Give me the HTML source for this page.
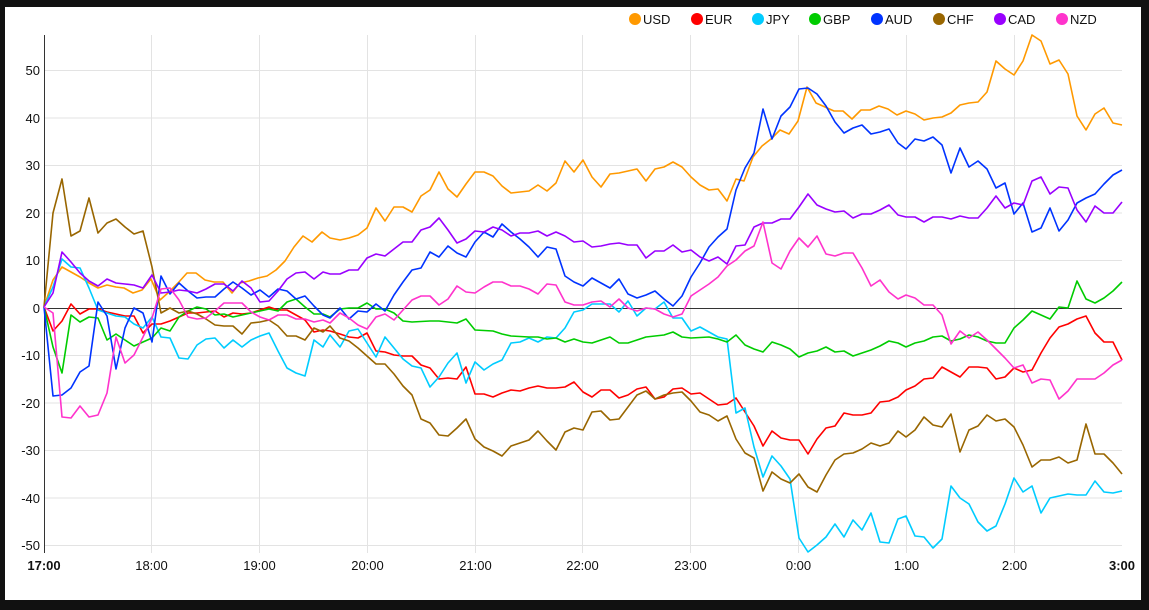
<!DOCTYPE html>
<html><head><meta charset="utf-8"><style>
html,body{margin:0;padding:0;background:#111;}
svg{display:block;font-family:"Liberation Sans",Arial,sans-serif;}
</style></head><body>
<svg width="1149" height="610" viewBox="0 0 1149 610" xmlns="http://www.w3.org/2000/svg">
<rect x="0" y="0" width="1149" height="610" fill="#111"/>
<rect x="5" y="7" width="1136" height="593" fill="#fff"/>
<g stroke="#e3e3e3" stroke-width="1">
<line x1="44.5" x2="1122" y1="70.5" y2="70.5"/><line x1="44.5" x2="1122" y1="118" y2="118"/><line x1="44.5" x2="1122" y1="165.5" y2="165.5"/><line x1="44.5" x2="1122" y1="213" y2="213"/><line x1="44.5" x2="1122" y1="260.5" y2="260.5"/>
<line x1="44.5" x2="1122" y1="355.5" y2="355.5"/><line x1="44.5" x2="1122" y1="403" y2="403"/><line x1="44.5" x2="1122" y1="450.5" y2="450.5"/><line x1="44.5" x2="1122" y1="498" y2="498"/><line x1="44.5" x2="1122" y1="545.5" y2="545.5"/>
<line x1="151.5" x2="151.5" y1="35" y2="553"/><line x1="259.5" x2="259.5" y1="35" y2="553"/><line x1="367.5" x2="367.5" y1="35" y2="553"/><line x1="475.5" x2="475.5" y1="35" y2="553"/><line x1="582.5" x2="582.5" y1="35" y2="553"/><line x1="690.5" x2="690.5" y1="35" y2="553"/><line x1="798.5" x2="798.5" y1="35" y2="553"/><line x1="906.5" x2="906.5" y1="35" y2="553"/><line x1="1014.5" x2="1014.5" y1="35" y2="553"/>
</g>
<line x1="44.5" x2="1122" y1="308.5" y2="308.5" stroke="#333" stroke-width="1"/>
<line x1="44.5" x2="44.5" y1="35" y2="553" stroke="#333" stroke-width="1"/>
<g font-size="13" fill="#111" text-anchor="end">
<text x="40" y="75">50</text><text x="40" y="123">40</text><text x="40" y="170">30</text><text x="40" y="218">20</text><text x="40" y="265">10</text><text x="40" y="313">0</text><text x="40" y="360">-10</text><text x="40" y="408">-20</text><text x="40" y="455">-30</text><text x="40" y="503">-40</text><text x="40" y="550">-50</text>
</g>
<g font-size="13" fill="#111" text-anchor="middle">
<text x="44" y="570" font-weight="bold">17:00</text><text x="151.5" y="570">18:00</text><text x="259.5" y="570">19:00</text><text x="367.5" y="570">20:00</text><text x="475.5" y="570">21:00</text><text x="582.5" y="570">22:00</text><text x="690.5" y="570">23:00</text><text x="798.5" y="570">0:00</text><text x="906.5" y="570">1:00</text><text x="1014.5" y="570">2:00</text><text x="1122" y="570" font-weight="bold">3:00</text>
</g>
<g fill="none" stroke-width="1.6" stroke-linejoin="round">
<polyline stroke="#ff9900" points="44,307 53,280 62,267 71,272 80,277 89,283 98,288 107,285 116,287 124,288 133,293 142,290 151,279 160,300 169,292 178,283 187,273 196,273 205,280 214,282 223,282 232,293 240,283 249,281 258,278 267,276 276,270 285,261 294,247 303,236 312,242 322,232 330,238 340,240 349,238 358,235 367,228 376,208 385,221 394,207 403,207 412,212 421,196 430,190 439,172 448,189 457,197 466,184 475,172 484,172 493,176 502,186 511,193 520,192 529,191 538,185 547,191 556,183 565,161 574,172 583,160 592,177 601,187 610,174 619,173 628,171 637,169 646,181 655,169 664,167 673,162 682,167 691,177 700,185 709,190 718,189 727,201 736,179 744,181 753,157 762,146 771,139 780,130 789,134 798,121 807,87 816,103 825,107 834,111 843,111 852,119 861,110 870,110 879,106 888,109 897,115 906,111 915,114 924,120 933,118 942,117 951,113 960,105 969,103 978,102 987,92 996,61 1005,69 1014,75 1023,61 1032,35 1041,41 1050,64 1059,60 1068,74 1077,116 1086,130 1095,114 1104,108 1113,123 1122,125"/>
<polyline stroke="#ff0000" points="44,307 53,331 62,321 71,304 80,314 89,309 98,309 107,312 116,314 125,316 134,316 143,333 152,324 161,324 170,321 179,317 188,313 197,313 206,312 215,311 224,317 233,313 242,314 251,313 260,310 269,307 278,310 287,310 296,315 305,320 314,332 323,330 330,331 340,334 349,337 358,338 367,333 376,351 385,352 394,355 403,356 412,356 421,365 430,368 439,379 448,378 457,379 466,367 475,394 484,394 493,397 502,393 511,390 520,391 529,388 538,386 547,388 556,388 565,387 574,382 583,392 592,397 601,390 610,390 619,398 628,395 637,389 646,387 655,399 664,397 673,389 682,388 691,394 700,393 709,399 718,405 727,404 736,398 745,412 754,426 763,446 772,431 781,438 790,440 799,440 808,454 817,439 826,428 835,426 844,413 853,415 862,415 871,413 880,402 889,401 898,397 906,390 915,386 924,379 933,378 942,367 951,372 960,377 969,367 978,367 987,368 996,379 1005,377 1014,368 1023,372 1032,370 1041,353 1050,338 1059,327 1068,324 1077,319 1086,316 1095,333 1104,342 1113,342 1122,360"/>
<polyline stroke="#00ccff" points="44,307 53,287 62,259 71,267 80,268 89,288 98,310 107,313 116,316 125,317 134,324 143,328 152,317 161,337 170,338 179,358 188,359 197,345 206,339 215,338 224,348 233,340 242,347 251,340 260,336 269,333 278,351 287,368 296,373 305,376 314,340 323,347 330,335 340,347 349,331 358,329 367,343 376,357 385,337 394,348 403,359 412,366 421,368 430,387 439,377 448,363 457,353 466,383 475,362 484,370 493,364 502,360 511,343 520,342 529,338 538,342 547,337 556,338 565,328 574,312 583,310 592,304 601,304 610,304 619,312 628,301 637,316 646,308 655,309 664,302 673,318 682,318 691,331 700,327 709,332 718,337 727,339 736,413 745,408 754,447 763,477 772,456 781,466 790,479 799,538 808,552 817,545 826,537 835,524 844,537 853,520 862,530 871,513 880,542 889,543 898,519 906,516 915,536 924,537 933,548 942,539 951,486 960,498 969,504 978,522 987,531 996,526 1005,504 1014,478 1023,492 1032,486 1041,513 1050,498 1059,496 1068,494 1077,495 1086,495 1095,481 1104,492 1113,493 1122,491"/>
<polyline stroke="#00cc00" points="44,307 53,347 62,373 71,315 80,322 89,317 98,318 107,340 116,334 125,340 134,346 143,342 152,338 161,328 170,331 179,317 188,311 197,307 206,309 215,315 224,314 233,317 242,315 251,313 260,311 269,309 278,311 287,302 296,299 305,307 314,314 323,314 330,317 340,309 349,308 358,308 367,303 376,309 385,309 394,313 403,321 412,322 430,321 439,321 448,322 457,323 466,319 475,330 493,331 502,334 511,336 529,337 538,337 547,339 556,338 565,342 574,339 583,342 592,343 601,340 610,337 619,343 628,343 637,340 646,337 655,336 664,335 673,332 682,337 691,338 709,337 718,339 727,342 736,335 745,345 754,349 763,352 772,342 781,345 790,349 799,357 808,353 817,351 826,347 835,352 844,351 853,356 862,353 871,350 880,346 889,341 898,343 906,347 915,343 924,341 933,337 942,336 951,341 960,339 969,335 978,337 987,341 996,343 1005,343 1014,328 1023,320 1032,311 1041,315 1050,319 1059,307 1068,308 1077,281 1086,299 1095,303 1104,298 1113,291 1122,282"/>
<polyline stroke="#0033ff" points="44,307 53,396 62,395 71,388 80,372 89,366 98,302 107,316 116,369 125,328 134,308 143,313 152,342 161,276 170,294 179,283 188,291 197,298 206,297 215,297 224,289 233,282 242,288 251,295 260,290 269,297 278,289 287,291 296,299 305,296 314,306 323,315 330,318 340,308 349,319 358,311 367,312 376,304 385,311 394,295 403,282 412,270 421,268 430,252 439,257 448,246 457,253 466,257 475,242 484,232 493,237 502,224 511,232 520,239 529,247 538,257 547,247 556,249 565,276 574,282 583,286 592,278 601,283 610,288 619,279 628,294 637,298 646,295 655,291 664,299 673,306 682,296 691,277 700,263 709,247 718,237 727,229 736,190 745,168 754,153 763,109 772,139 781,116 790,107 799,89 808,88 817,94 826,106 835,122 844,133 853,128 862,125 871,134 880,132 889,129 898,143 906,149 915,139 924,141 933,137 942,145 951,173 960,148 969,167 978,161 987,169 996,188 1005,183 1014,214 1023,203 1032,232 1041,228 1050,208 1059,231 1068,220 1077,203 1086,198 1095,194 1104,184 1113,175 1122,170"/>
<polyline stroke="#996600" points="44,307 53,213 62,179 71,236 80,231 89,198 98,233 107,223 116,219 125,227 134,234 143,231 152,267 161,313 170,308 179,313 188,311 197,314 206,319 215,325 224,326 233,326 242,334 251,323 260,322 269,320 278,326 287,336 296,336 305,340 314,328 323,332 330,326 340,338 349,341 358,348 367,356 376,364 385,364 394,374 403,386 412,395 421,419 430,423 439,435 448,436 457,428 466,419 475,439 484,447 493,451 502,456 511,446 520,443 529,440 538,431 547,441 556,450 565,432 574,428 583,430 592,412 601,411 610,420 619,419 628,407 637,395 646,391 655,399 664,395 673,393 682,392 691,401 700,412 709,415 718,421 727,416 736,439 745,453 754,458 763,491 772,472 781,479 790,483 799,474 808,487 817,492 826,475 835,460 844,454 853,453 862,449 871,443 880,446 889,443 898,431 906,437 915,430 924,417 933,425 942,427 951,414 960,452 969,430 978,426 987,415 996,421 1005,419 1014,427 1023,445 1032,467 1041,460 1050,460 1059,457 1068,463 1077,460 1086,424 1095,454 1104,454 1113,463 1122,474"/>
<polyline stroke="#9900ff" points="44,307 53,293 62,252 71,262 80,273 89,281 98,286 107,279 116,283 125,284 134,285 143,288 152,275 161,293 170,292 179,290 188,291 197,293 206,289 215,284 224,284 233,291 242,281 251,288 260,302 269,301 278,291 287,279 296,273 305,272 314,279 323,272 330,274 340,274 349,270 358,270 367,258 376,254 385,256 394,249 403,242 412,242 421,230 430,227 439,218 448,230 457,243 466,239 475,231 484,232 493,227 502,230 511,236 520,233 529,233 538,231 547,236 556,232 565,236 574,242 583,241 592,247 601,246 610,244 619,243 628,245 637,245 646,258 655,251 664,251 673,245 682,252 691,250 700,257 709,261 718,257 727,264 736,246 745,245 754,227 763,223 772,223 781,219 790,219 799,207 808,194 817,205 826,209 835,212 844,211 853,218 862,214 871,214 880,210 889,205 898,215 906,217 915,217 924,222 933,217 942,217 951,219 960,216 969,218 978,218 987,208 996,196 1005,208 1014,203 1023,205 1032,181 1041,177 1050,194 1059,187 1068,188 1077,210 1086,222 1095,206 1104,213 1113,213 1122,202"/>
<polyline stroke="#ff33cc" points="44,307 53,313 62,417 71,418 80,406 89,417 98,415 107,393 116,337 125,363 134,355 143,337 152,318 161,289 170,288 179,300 188,317 197,319 206,318 215,311 224,303 233,303 242,303 251,312 260,317 269,320 278,315 287,315 296,319 305,319 314,322 323,320 330,323 340,313 349,318 358,325 367,329 376,317 385,314 394,320 403,310 412,300 421,296 430,296 439,305 448,299 457,286 466,292 475,293 484,287 493,282 502,282 511,286 520,286 529,289 538,294 547,284 556,285 565,302 574,305 583,305 592,302 601,301 610,307 619,299 628,308 637,311 646,308 655,309 664,314 673,317 682,314 691,296 700,290 709,284 718,277 727,266 736,260 745,251 754,246 763,222 772,263 781,269 790,251 799,238 808,247 817,236 826,254 835,256 844,253 853,253 862,268 871,286 880,280 889,292 898,299 906,295 915,298 924,305 933,305 942,315 951,344 960,331 969,338 978,332 987,340 996,349 1005,358 1014,368 1023,365 1032,383 1041,379 1050,380 1059,399 1068,391 1077,379 1086,379 1095,379 1104,373 1113,365 1122,360"/>
</g>
<g font-size="13" fill="#111">
<circle cx="635" cy="19" r="6" fill="#ff9900"/><text x="643" y="24">USD</text>
<circle cx="697" cy="19" r="6" fill="#ff0000"/><text x="705" y="24">EUR</text>
<circle cx="758" cy="19" r="6" fill="#00ccff"/><text x="766" y="24">JPY</text>
<circle cx="815" cy="19" r="6" fill="#00cc00"/><text x="823" y="24">GBP</text>
<circle cx="877" cy="19" r="6" fill="#0033ff"/><text x="885" y="24">AUD</text>
<circle cx="939" cy="19" r="6" fill="#996600"/><text x="947" y="24">CHF</text>
<circle cx="1000" cy="19" r="6" fill="#9900ff"/><text x="1008" y="24">CAD</text>
<circle cx="1062" cy="19" r="6" fill="#ff33cc"/><text x="1070" y="24">NZD</text>
</g>
</svg>
</body></html>
